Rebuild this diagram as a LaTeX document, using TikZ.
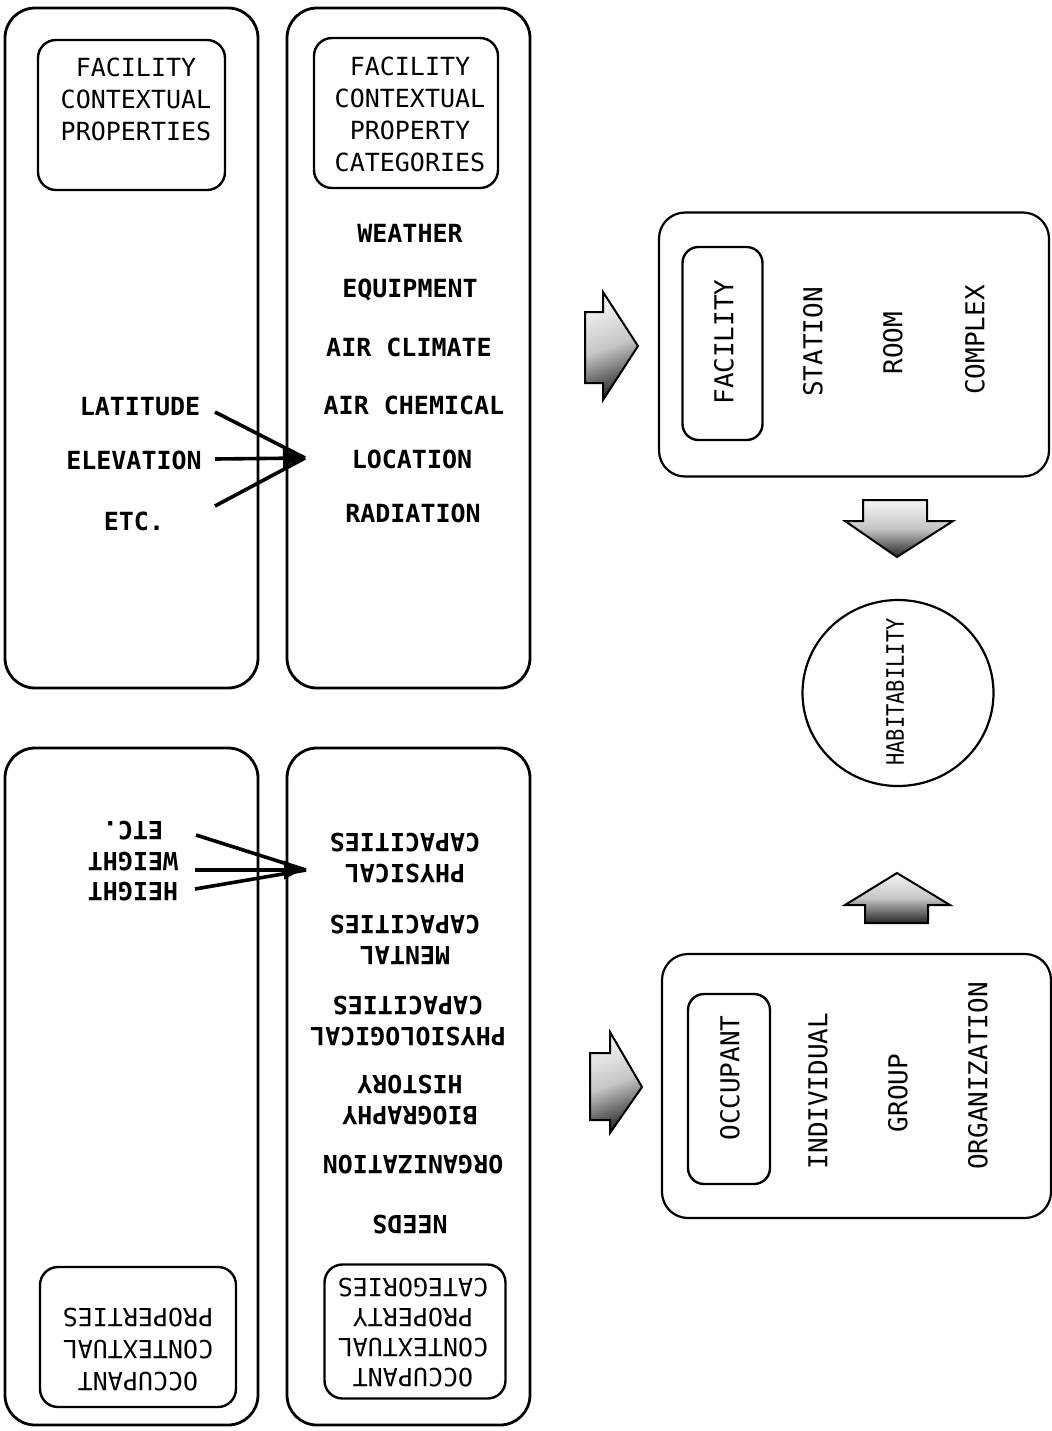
\documentclass[tikz,border=0pt]{standalone}
\usepackage{fontspec}
\usetikzlibrary{arrows.meta,shapes.geometric}
\newfontfamily\typefont{DejaVu Sans Mono}

\tikzset{
  panel/.style={draw, line width=1.4pt, rounded corners=15pt, inner sep=0pt},
  sidepanel/.style={draw, line width=1.1pt, rounded corners=13pt, inner sep=0pt},
  titlebox/.style={draw, line width=1.2pt, rounded corners=9pt, inner sep=0pt},
  boxtext/.style={font=\typefont\fontsize{12.5}{16}\selectfont, align=center, inner sep=0pt},
  itemtext/.style={font=\typefont\bfseries\fontsize{12.5}{15.5}\selectfont, align=center, inner sep=0pt},
  sidetext/.style={font=\typefont\fontsize{13}{15}\selectfont, rotate=90, inner sep=0pt},
  feed/.style={line width=1.8pt},
  feedtip/.style={feed, -{Latex[length=11pt, width=10pt]}},
  blockarrow/.style={draw, line width=1pt, line join=miter,
    top color=gray!8, bottom color=black!85, middle color=gray!45}
}

\begin{document}
\begin{tikzpicture}[x=0.5pt, y=-0.5pt]
\useasboundingbox (0,0) rectangle (1052,1431);

% ---- facility side: property panels ----
\node[panel, minimum width=126.5pt, minimum height=340pt] (fprop) at (131.5,348) {};
\node[panel, minimum width=121.5pt, minimum height=340pt] (fcat) at (408.5,348) {};
\node[titlebox, minimum width=93.5pt, minimum height=75pt] (fpropbox) at (131.5,115) {};
\node[boxtext] (fproptitle) at (136,99) {FACILITY\\CONTEXTUAL\\PROPERTIES};
\node[titlebox, minimum width=92pt, minimum height=75pt] (fcatbox) at (406,113) {};
\node[boxtext] (fcattitle) at (410,114) {FACILITY\\CONTEXTUAL\\PROPERTY\\CATEGORIES};

\node[itemtext] (weather) at (410,233) {WEATHER};
\node[itemtext] (equip) at (410,290) {EQUIPMENT};
\node[itemtext] (airclim) at (409,347) {AIR CLIMATE};
\node[itemtext] (airchem) at (414,405) {AIR CHEMICAL};
\node[itemtext] (location) at (412,459) {LOCATION};
\node[itemtext] (radiation) at (413,513) {RADIATION};

\node[itemtext] (latitude) at (140,407) {LATITUDE};
\node[itemtext] (elevation) at (134,460) {ELEVATION};
\node[itemtext] (fetc) at (134,521) {ETC.};

\coordinate (fhub) at (305,458);
\coordinate (latstart) at (215,412);
\coordinate (elevstart) at (215,459);
\coordinate (fetcstart) at (215,506);
\draw[feed] (latstart) -- (fhub);
\draw[feed] (fetcstart) -- (fhub);
\draw[feedtip] (elevstart) -- (fhub);

% ---- occupant side: property panels (set upside down) ----
\node[panel, minimum width=126.5pt, minimum height=338.5pt] (oprop) at (131.5,1086.5) {};
\node[panel, minimum width=121.5pt, minimum height=338.5pt] (ocat) at (408.5,1086.5) {};
\node[titlebox, minimum width=98pt, minimum height=70pt] (opropbox) at (138,1337) {};
\node[boxtext, rotate=180] (oproptitle) at (138,1350) {OCCUPANT\\CONTEXTUAL\\PROPERTIES};
\node[titlebox, minimum width=90.5pt, minimum height=67pt] (ocatbox) at (415,1331.5) {};
\node[boxtext, rotate=180, font=\typefont\fontsize{12.5}{15}\selectfont] (ocattitle) at (413,1333) {OCCUPANT\\CONTEXTUAL\\PROPERTY\\CATEGORIES};

\node[itemtext, rotate=180] (physical) at (405,858) {PHYSICAL\\CAPACITIES};
\node[itemtext, rotate=180] (mental) at (405,940) {MENTAL\\CAPACITIES};
\node[itemtext, rotate=180] (physio) at (408,1021) {PHYSIOLOGICAL\\CAPACITIES};
\node[itemtext, rotate=180] (biography) at (410,1100) {BIOGRAPHY\\HISTORY};
\node[itemtext, rotate=180] (organization) at (413,1165) {ORGANIZATION};
\node[itemtext, rotate=180] (needs) at (410,1225) {NEEDS};

\node[itemtext, rotate=180] (height) at (133,892) {HEIGHT};
\node[itemtext, rotate=180] (weight) at (133,862) {WEIGHT};
\node[itemtext, rotate=180] (oetc) at (133,831) {ETC.};

\coordinate (ohub) at (306,870);
\coordinate (heightstart) at (195,889);
\coordinate (weightstart) at (195,870);
\coordinate (oetcstart) at (196,835);
\draw[feed] (heightstart) -- (ohub);
\draw[feed] (oetcstart) -- (ohub);
\draw[feedtip] (weightstart) -- (ohub);

% ---- facility levels ----
\node[sidepanel, minimum width=195pt, minimum height=132pt] (flevels) at (854,344.5) {};
\node[titlebox, rounded corners=8pt, minimum width=40pt, minimum height=96.5pt] (facbox) at (722.5,343.5) {};
\node[sidetext] (facility) at (724,342) {FACILITY};
\node[sidetext] (station) at (813,342) {STATION};
\node[sidetext] (room) at (893,343) {ROOM};
\node[sidetext] (complex) at (975,340) {COMPLEX};

% ---- habitability ----
\node[draw, line width=1.1pt, ellipse, minimum width=95.5pt, minimum height=93pt, inner sep=0pt] (habit) at (898,693) {};
\node[sidetext, font=\typefont\fontsize{12}{14}\selectfont] (habitext) at (895,692) {\scalebox{0.85}[1]{HABITABILITY}};

% ---- occupant levels ----
\node[sidepanel, minimum width=194.5pt, minimum height=132pt] (olevels) at (856.5,1086) {};
\node[titlebox, rounded corners=8pt, minimum width=41pt, minimum height=95pt] (occbox) at (729,1089) {};
\node[sidetext] (occupant) at (730,1078) {OCCUPANT};
\node[sidetext] (individual) at (818,1091) {INDIVIDUAL};
\node[sidetext] (group) at (898,1093) {GROUP};
\node[sidetext] (orglevel) at (978,1076) {ORGANIZATION};

% ---- block arrows ----
\path[blockarrow, shading angle=20]
  (585,312) -- (603,312) -- (603,292) -- (638,346) -- (603,400) -- (603,383) -- (585,383) -- cycle;
\path[blockarrow, shading angle=20]
  (590,1053) -- (610,1053) -- (610,1032) -- (642,1087) -- (610,1133) -- (610,1120) -- (590,1120) -- cycle;
\path[blockarrow]
  (863,500) -- (927,500) -- (927,521) -- (953,521) -- (897,557) -- (845,521) -- (863,521) -- cycle;
\path[blockarrow]
  (897,873) -- (950,905) -- (928,905) -- (928,923) -- (865,923) -- (865,905) -- (845,905) -- cycle;
\end{tikzpicture}
\end{document}
